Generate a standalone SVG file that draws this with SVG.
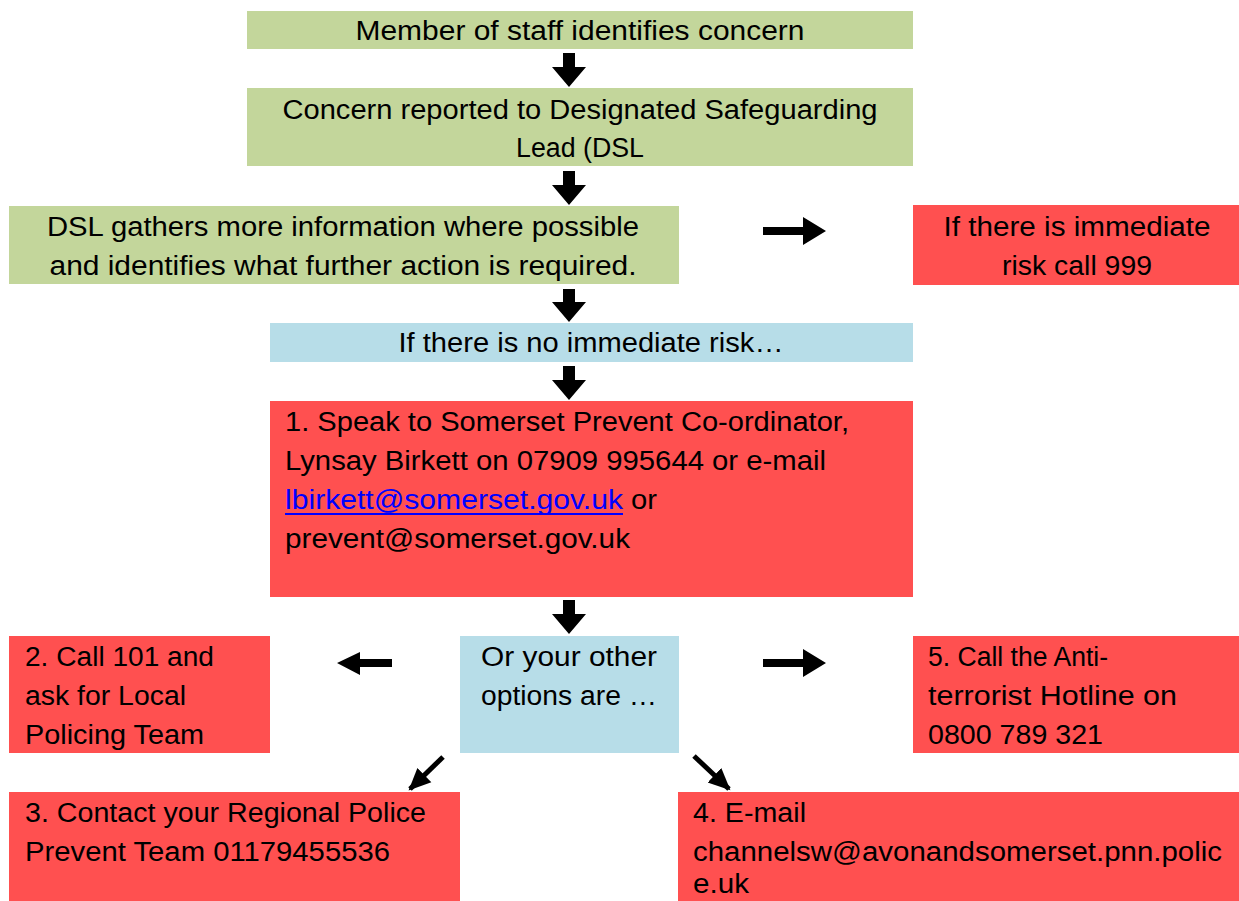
<svg xmlns="http://www.w3.org/2000/svg" width="1239" height="901" viewBox="0 0 1239 901">
<style>
.g{fill:#C3D69B}
.r{fill:#FF5050}
.b{fill:#B7DDE8}
text{font-family:"Liberation Sans",Arial,sans-serif;font-size:27px;fill:#000}
.c{text-anchor:middle}
.lnk{fill:#0000FF}
.ar{fill:#000}
.dl{stroke:#000;stroke-width:5;fill:none}
</style>
<defs>
<marker id="dh" markerUnits="userSpaceOnUse" markerWidth="24" markerHeight="24" viewBox="0 0 24 24" refX="20" refY="12" orient="auto">
<path d="M0,2 L22,12 L0,22 Z" fill="#000"/>
</marker>
</defs>
<rect width="1239" height="901" fill="#fff"/>

<g id="n1">
<rect class="g" x="247" y="11" width="666" height="38"/>
<text class="c" x="580" y="40" textLength="449" lengthAdjust="spacingAndGlyphs">Member of staff identifies concern</text>
</g>
<g id="n2">
<rect class="g" x="247" y="88" width="666" height="78"/>
<text class="c" x="580" y="119" textLength="595" lengthAdjust="spacingAndGlyphs">Concern reported to Designated Safeguarding</text>
<text class="c" x="580" y="157" textLength="128" lengthAdjust="spacingAndGlyphs">Lead (DSL</text>
</g>
<g id="n3">
<rect class="g" x="9" y="206" width="670" height="78"/>
<text class="c" x="343" y="236" textLength="592" lengthAdjust="spacingAndGlyphs">DSL gathers more information where possible</text>
<text class="c" x="343" y="275" textLength="587" lengthAdjust="spacingAndGlyphs">and identifies what further action is required.</text>
</g>
<g id="n999">
<rect class="r" x="913" y="205" width="326" height="80"/>
<text class="c" x="1077" y="236" textLength="267" lengthAdjust="spacingAndGlyphs">If there is immediate</text>
<text class="c" x="1077" y="275" textLength="150" lengthAdjust="spacingAndGlyphs">risk call 999</text>
</g>
<g id="n4">
<rect class="b" x="270" y="323" width="643" height="39"/>
<text class="c" x="591" y="352" textLength="385" lengthAdjust="spacingAndGlyphs">If there is no immediate risk…</text>
</g>
<g id="n5">
<rect class="r" x="270" y="401" width="643" height="196"/>
<text x="285" y="431" textLength="564" lengthAdjust="spacingAndGlyphs">1. Speak to Somerset Prevent Co-ordinator,</text>
<text x="285" y="470" textLength="541" lengthAdjust="spacingAndGlyphs">Lynsay Birkett on 07909 995644 or e-mail</text>
<text class="lnk" x="285" y="509" textLength="338" lengthAdjust="spacingAndGlyphs">lbirkett@somerset.gov.uk</text>
<rect x="285" y="513" width="338" height="2" fill="#0000FF"/>
<text x="631" y="509" textLength="26" lengthAdjust="spacingAndGlyphs">or</text>
<text x="285" y="548" textLength="345" lengthAdjust="spacingAndGlyphs">prevent@somerset.gov.uk</text>
</g>
<g id="n6">
<rect class="b" x="460" y="636" width="219" height="117"/>
<text x="481" y="666" textLength="176" lengthAdjust="spacingAndGlyphs">Or your other</text>
<text x="481" y="705" textLength="176" lengthAdjust="spacingAndGlyphs">options are …</text>
</g>
<g id="n7">
<rect class="r" x="9" y="636" width="261" height="117"/>
<text x="25" y="666" textLength="189" lengthAdjust="spacingAndGlyphs">2. Call 101 and</text>
<text x="25" y="705" textLength="161" lengthAdjust="spacingAndGlyphs">ask for Local</text>
<text x="25" y="744" textLength="179" lengthAdjust="spacingAndGlyphs">Policing Team</text>
</g>
<g id="n8">
<rect class="r" x="913" y="636" width="326" height="117"/>
<text x="928" y="666" textLength="180" lengthAdjust="spacingAndGlyphs">5. Call the Anti-</text>
<text x="928" y="705" textLength="249" lengthAdjust="spacingAndGlyphs">terrorist Hotline on</text>
<text x="928" y="744" textLength="175" lengthAdjust="spacingAndGlyphs">0800 789 321</text>
</g>
<g id="n9">
<rect class="r" x="9" y="792" width="451" height="109"/>
<text x="25" y="822" textLength="401" lengthAdjust="spacingAndGlyphs">3. Contact your Regional Police</text>
<text x="25" y="861" textLength="365" lengthAdjust="spacingAndGlyphs">Prevent Team 01179455536</text>
</g>
<g id="n10">
<rect class="r" x="678" y="792" width="561" height="109"/>
<text x="693" y="822" textLength="113" lengthAdjust="spacingAndGlyphs">4. E-mail</text>
<text x="693" y="861" textLength="529" lengthAdjust="spacingAndGlyphs">channelsw@avonandsomerset.pnn.polic</text>
<text x="693" y="893" textLength="56" lengthAdjust="spacingAndGlyphs">e.uk</text>
</g>

<g id="connectors">
<polygon class="ar" points="563,53 575,53 575,67 586,67 569,87 552,67 563,67"/>
<polygon class="ar" points="563,171 575,171 575,185 586,185 569,205 552,185 563,185"/>
<polygon class="ar" points="563,289 575,289 575,302 586,302 569,322 552,302 563,302"/>
<polygon class="ar" points="563,366 575,366 575,380 586,380 569,400 552,380 563,380"/>
<polygon class="ar" points="563,600 575,600 575,614 586,614 569,634 552,614 563,614"/>
<polygon class="ar" points="763,227 803,227 803,217 826,231 803,245 803,235 763,235"/>
<polygon class="ar" points="763,659 803,659 803,649 826,663 803,677 803,667 763,667"/>
<polygon class="ar" points="392,659 360,659 360,652 337,663 360,675 360,667 392,667"/>
<line class="dl" x1="443" y1="757" x2="410" y2="789" marker-end="url(#dh)"/>
<line class="dl" x1="694" y1="756" x2="729" y2="789" marker-end="url(#dh)"/>
</g>
</svg>
